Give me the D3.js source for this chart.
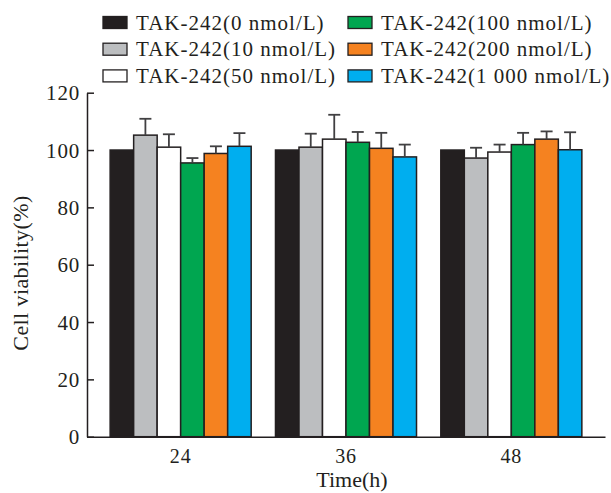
<!DOCTYPE html>
<html>
<head>
<meta charset="utf-8">
<script src="https://cdn.jsdelivr.net/npm/d3@7"></script>
<style>
  body { margin: 0; background: #fff; }
  text { font-family: "Liberation Serif", "Times New Roman", serif; fill: #231f20; }
</style>
</head>
<body>
<div id="chart"></div>
<script>
// data
var times = ["24", "36", "48"];
var series = ["TAK-242(0 nmol/L)", "TAK-242(10 nmol/L)", "TAK-242(50 nmol/L)",
              "TAK-242(100 nmol/L)", "TAK-242(200 nmol/L)", "TAK-242(1 000 nmol/L)"];
var colors = ["#231f20", "#bcbec0", "#ffffff", "#00a650", "#f58220", "#00aeef"];
// mean viability per series, one value per time point
var means = [
  [100, 100, 100],
  [105.2, 101.0, 97.2],
  [101.0, 103.8, 99.3],
  [95.5, 102.7, 101.9],
  [98.8, 100.6, 103.8],
  [101.3, 97.6, 100.1]
];
var errors = [
  [0, 0, 0],
  [5.7, 4.7, 3.6],
  [4.5, 8.5, 2.6],
  [1.7, 3.6, 4.1],
  [2.5, 5.4, 2.7],
  [4.6, 4.3, 6.1]
];
var yTicks = [0, 20, 40, 60, 80, 100, 120];

var W = 611, H = 493;
var plotLeft = 87, plotRight = 605, plotTop = 92.7, plotBottom = 436.7;

var svg = d3.select("#chart").append("svg")
    .attr("width", W)
    .attr("height", H);

var x = d3.scaleBand()
    .domain(times)
    .range([plotLeft, plotRight])
    .paddingInner(0.147)
    .paddingOuter(0.14);

var xs = d3.scaleBand()
    .domain(series)
    .range([0, x.bandwidth()]);

var y = d3.scaleLinear()
    .domain([0, 120])
    .range([plotBottom, plotTop]);

// flatten for drawing
var rows = [];
times.forEach(function(t, ti) {
    series.forEach(function(s, si) {
        rows.push({time: t, key: s, i: si, value: means[si][ti], err: errors[si][ti]});
    });
});

// bars
svg.append("g").selectAll("rect")
    .data(rows)
    .enter().append("rect")
    .attr("x", function(d) { return x(d.time) + xs(d.key); })
    .attr("y", function(d) { return y(d.value); })
    .attr("width", xs.bandwidth())
    .attr("height", function(d) { return y(0) - y(d.value); })
    .style("fill", function(d) { return colors[d.i]; })
    .style("stroke", "#231f20")
    .style("stroke-width", 1.5);

// error bars (upper only)
var eb = svg.append("g").selectAll("g")
    .data(rows.filter(function(d) { return d.err > 0; }))
    .enter().append("g")
    .style("stroke", "#414042")
    .style("stroke-width", 1.8);

eb.append("line")
    .attr("x1", function(d) { return x(d.time) + xs(d.key) + xs.bandwidth() / 2; })
    .attr("x2", function(d) { return x(d.time) + xs(d.key) + xs.bandwidth() / 2; })
    .attr("y1", function(d) { return y(d.value); })
    .attr("y2", function(d) { return y(d.value + d.err); });

eb.append("line")
    .attr("x1", function(d) { return x(d.time) + xs(d.key) + xs.bandwidth() / 2 - 6; })
    .attr("x2", function(d) { return x(d.time) + xs(d.key) + xs.bandwidth() / 2 + 6; })
    .attr("y1", function(d) { return y(d.value + d.err); })
    .attr("y2", function(d) { return y(d.value + d.err); });

// y axis, ticks pointing inward
var yAxis = svg.append("g")
    .attr("transform", "translate(" + plotLeft + ",0)")
    .call(d3.axisRight(y).tickValues(yTicks).tickSize(7).tickSizeOuter(0).tickFormat(d3.format("d")));
yAxis.select(".domain").style("stroke", "#231f20").style("stroke-width", 1.5);
yAxis.selectAll(".tick line").style("stroke", "#231f20").style("stroke-width", 1.5);
yAxis.selectAll(".tick text")
    .attr("x", -7)
    .attr("dy", "0.34em")
    .style("text-anchor", "end")
    .style("font-size", "21px")
    .style("letter-spacing", "0.8px");

// x axis, no tick marks
var xAxis = svg.append("g")
    .attr("transform", "translate(0," + plotBottom + ")")
    .call(d3.axisBottom(x).tickSize(0).tickSizeOuter(0));
xAxis.select(".domain").style("stroke", "#231f20").style("stroke-width", 1.5);
xAxis.selectAll(".tick text")
    .attr("y", 12)
    .attr("dy", "0.71em")
    .style("font-size", "20px")
    .style("letter-spacing", "0.8px");

// axis titles
svg.append("text")
    .attr("x", 352)
    .attr("y", 487)
    .style("text-anchor", "middle")
    .style("font-size", "22px")
    .text("Time(h)");

svg.append("text")
    .attr("transform", "translate(28,273) rotate(-90)")
    .style("text-anchor", "middle")
    .style("font-size", "22px")
    .style("letter-spacing", "0.4px")
    .text("Cell viability(%)");

// legend, two columns of three
var legend = svg.append("g").selectAll("g")
    .data(series)
    .enter().append("g")
    .attr("transform", function(d, i) {
        var col = Math.floor(i / 3), row = i % 3;
        return "translate(" + (col ? 348 : 103) + "," + (16.5 + row * 26.7) + ")";
    });

legend.append("rect")
    .attr("width", 24)
    .attr("height", 12)
    .style("fill", function(d, i) { return colors[i]; })
    .style("stroke", "#231f20")
    .style("stroke-width", 1.3);

legend.append("text")
    .attr("x", 33)
    .attr("y", 13)
    .style("font-size", "21px")
    .style("letter-spacing", "1px")
    .text(function(d) { return d; });
</script>
</body>
</html>
